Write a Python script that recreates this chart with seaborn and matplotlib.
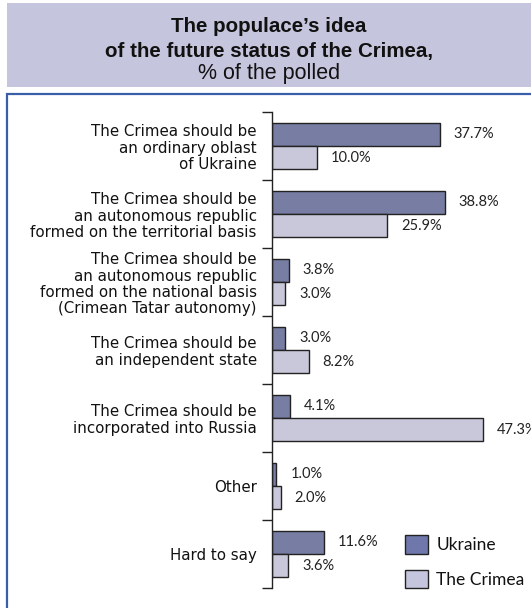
import matplotlib
matplotlib.use("Agg")
import matplotlib.pyplot as plt
from matplotlib.patches import Rectangle, Patch
import pandas as pd
import seaborn as sns

categories = [
    "The Crimea should be\nan ordinary oblast\nof Ukraine",
    "The Crimea should be\nan autonomous republic\nformed on the territorial basis",
    "The Crimea should be\nan autonomous republic\nformed on the national basis\n(Crimean Tatar autonomy)",
    "The Crimea should be\nan independent state",
    "The Crimea should be\nincorporated into Russia",
    "Other",
    "Hard to say",
]
ukraine = [37.7, 38.8, 3.8, 3.0, 4.1, 1.0, 11.6]
crimea = [10.0, 25.9, 3.0, 8.2, 47.3, 2.0, 3.6]
series = ["Ukraine", "The Crimea"]
colors = ["#6f77ab", "#c5c5dd"]
title_lines = ["The populace\u2019s idea", "of the future status of the Crimea,", "% of the polled"]

df = pd.DataFrame({
    "category": categories * 2,
    "value": ukraine + crimea,
    "region": [series[0]] * len(categories) + [series[1]] * len(categories),
})

W, H = 531, 608
fig = plt.figure(figsize=(W / 100, H / 100), dpi=100)
sns.set_style("white")
plt.rcParams["font.family"] = ["Lato", "DejaVu Sans"]

def px_x(x):
    return x / W

def px_y(y):
    return 1 - y / H

# title band
fig.patches.append(Rectangle((px_x(7), px_y(87)), px_x(531 - 7), (87 - 3) / H,
                             transform=fig.transFigure, facecolor="#c5c5dd",
                             edgecolor="none", zorder=0))
fig.text(px_x(269), px_y(27), title_lines[0], ha="center", va="center",
         fontsize=14.8, fontweight="bold", family="Liberation Sans", color="#111111")
fig.text(px_x(269), px_y(51), title_lines[1], ha="center", va="center",
         fontsize=14.8, fontweight="bold", family="Liberation Sans", color="#111111")
fig.text(px_x(269), px_y(73), title_lines[2], ha="center", va="center",
         fontsize=15.5, family="Liberation Sans", color="#111111")

# framed panel around the chart
fig.patches.append(Rectangle((px_x(7), px_y(640)), px_x(560), (640 - 94) / H,
                             transform=fig.transFigure, facecolor="none",
                             edgecolor="#3a5ea8", linewidth=1.6, zorder=0))

left, right, top, bottom = 272, 531, 112, 588
ax = fig.add_axes([px_x(left), px_y(bottom), px_x(right - left), (bottom - top) / H])
ax.set_facecolor("none")

sns.barplot(data=df, y="category", x="value", hue="region", orient="h",
            palette=colors, width=0.68, edgecolor="#222222", linewidth=1.0,
            ax=ax, legend=False)

xmax = (right - left) / 4.456
ax.set_xlim(0, xmax)
ax.set_ylim(len(categories) - 0.5, -0.5)

for cont in ax.containers:
    ax.bar_label(cont, labels=[f"{v:.1f}%" for v in cont.datavalues],
                 padding=10, fontsize=10.5, color="#222222")

ax.set_xlabel("")
ax.set_ylabel("")
ax.set_xticks([])
ax.set_yticks(range(len(categories)))
ax.set_yticklabels(categories, fontsize=10.8, color="#111111", linespacing=1.12,
                   family="DejaVu Sans")
ax.set_yticks([i - 0.5 for i in range(len(categories) + 1)], minor=True)
ax.tick_params(axis="y", which="major", length=0, pad=11)
ax.tick_params(axis="y", which="minor", length=7, width=1, color="#222222",
               direction="out", left=True)
for s in ["top", "right", "bottom"]:
    ax.spines[s].set_visible(False)
ax.spines["left"].set_color("#222222")
ax.spines["left"].set_linewidth(1.0)

handles = [Patch(facecolor=c, edgecolor="#222222", linewidth=1.0) for c in colors]
fig.legend(handles, series, loc="upper left",
           bbox_to_anchor=(px_x(405), px_y(535)), bbox_transform=fig.transFigure,
           frameon=False, borderpad=0, borderaxespad=0, handlelength=1.3,
           handleheight=1.3, handletextpad=0.5, labelspacing=0.9,
           fontsize=12.5, labelcolor="#111111")

fig.savefig("out.png", dpi=100)
